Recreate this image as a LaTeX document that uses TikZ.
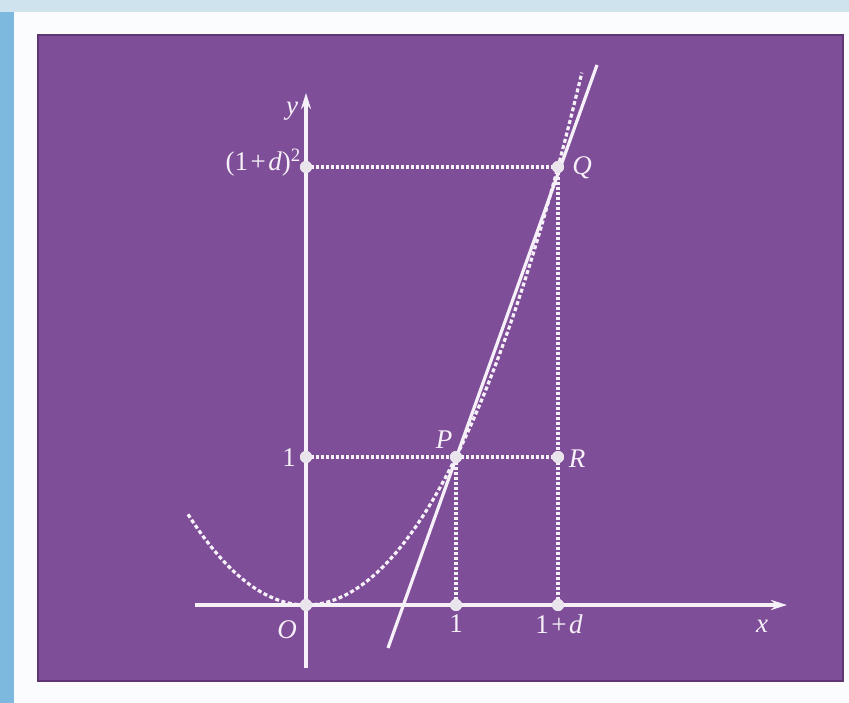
\documentclass[tikz,border=0pt]{standalone}
\usepackage{fontspec}
\setmainfont{Liberation Serif}
\usetikzlibrary{arrows.meta}
\definecolor{bgpurple}{HTML}{7F4E98}
\definecolor{edgepurple}{HTML}{5E3673}
\definecolor{lightblue}{HTML}{CFE3EF}
\definecolor{sideblue}{HTML}{7DB8DF}
\definecolor{paper}{HTML}{FBFCFD}
\definecolor{ink}{HTML}{F6F0F8}
\newcommand{\pl}{\hspace{2.5pt}+\hspace{2.5pt}}
\tikzset{
  axis/.style={draw=ink, line width=3.2pt, -{Stealth[length=16pt,width=10pt]}},
  guide/.style={draw=ink, line width=3.4pt, dash pattern=on 3pt off 2pt},
  curve/.style={draw=ink, line width=3.2pt, dash pattern=on 4pt off 2.5pt},
  secant/.style={draw=ink, line width=3.2pt},
  dot/.style={circle, fill=ink!90!gray, inner sep=0pt, minimum size=12pt},
  lab/.style={text=ink, font=\fontsize{27}{30}\selectfont, inner sep=1pt}
}
\begin{document}
\begin{tikzpicture}[x=1pt,y=-1pt]
\useasboundingbox (0,0) rectangle (849,703);
% background
\fill[paper] (0,0) rectangle (849,703);
\fill[lightblue] (0,0) rectangle (849,12);
\fill[sideblue] (0,12) rectangle (14,703);
\fill[bgpurple] (38,35) rectangle (843,681);
\draw[edgepurple, line width=1.5pt] (38,35) rectangle (843,681);
% points
\node[dot] (O) at (306,605) {};
\node[dot] (X1) at (456,605) {};
\node[dot] (X2) at (558,605) {};
\node[dot] (Y1) at (306,457) {};
\node[dot] (Y2) at (306,167) {};
\node[dot] (P) at (456,457) {};
\node[dot] (R) at (558,457) {};
\node[dot] (Q) at (558,167) {};
\coordinate (xs) at (195,605);
\coordinate (xe) at (787,605);
\coordinate (ys) at (306,668);
\coordinate (ye) at (306,93);
\coordinate (s1) at (388,648);
\coordinate (s2) at (597,65);
% axes
\draw[axis] (xs) -- (xe);
\draw[axis] (ys) -- (ye);
% guides
\draw[guide] (Y2.center) -- (Q.center);
\draw[guide] (Y1.center) -- (R.center);
\draw[guide] (P.center) -- (X1.center);
\draw[guide] (Q.center) -- (X2.center);
% parabola
\draw[curve] plot[domain=-1.18:2.76, samples=120, smooth]
  ({306+100*\x}, {605 - 64.03*\x*\x - 0.78*\x*\x*\x*\x});
% secant
\draw[secant] (s1) -- (s2);
% redraw dots on top
\foreach \n in {O,X1,X2,Y1,Y2,P,R,Q} \fill[ink!90!gray] (\n) circle (6pt);
% labels
\node[lab] (ly) at (292,111) {\textit{y}};
\node[lab, anchor=east] (ly2) at (302,163) {(1\pl\textit{d})\textsuperscript{2}};
\node[lab] (lQ) at (582,168) {\textit{Q}};
\node[lab] (ly1) at (289,458) {1};
\node[lab] (lP) at (444,440) {\textit{P}};
\node[lab] (lR) at (577,459) {\textit{R}};
\node[lab] (lO) at (287,630) {\textit{O}};
\node[lab] (lx1) at (456,624) {1};
\node[lab] (lx2) at (559,624) {1\pl\textit{d}};
\node[lab] (lx) at (762,626) {\textit{x}};
\end{tikzpicture}
\end{document}
